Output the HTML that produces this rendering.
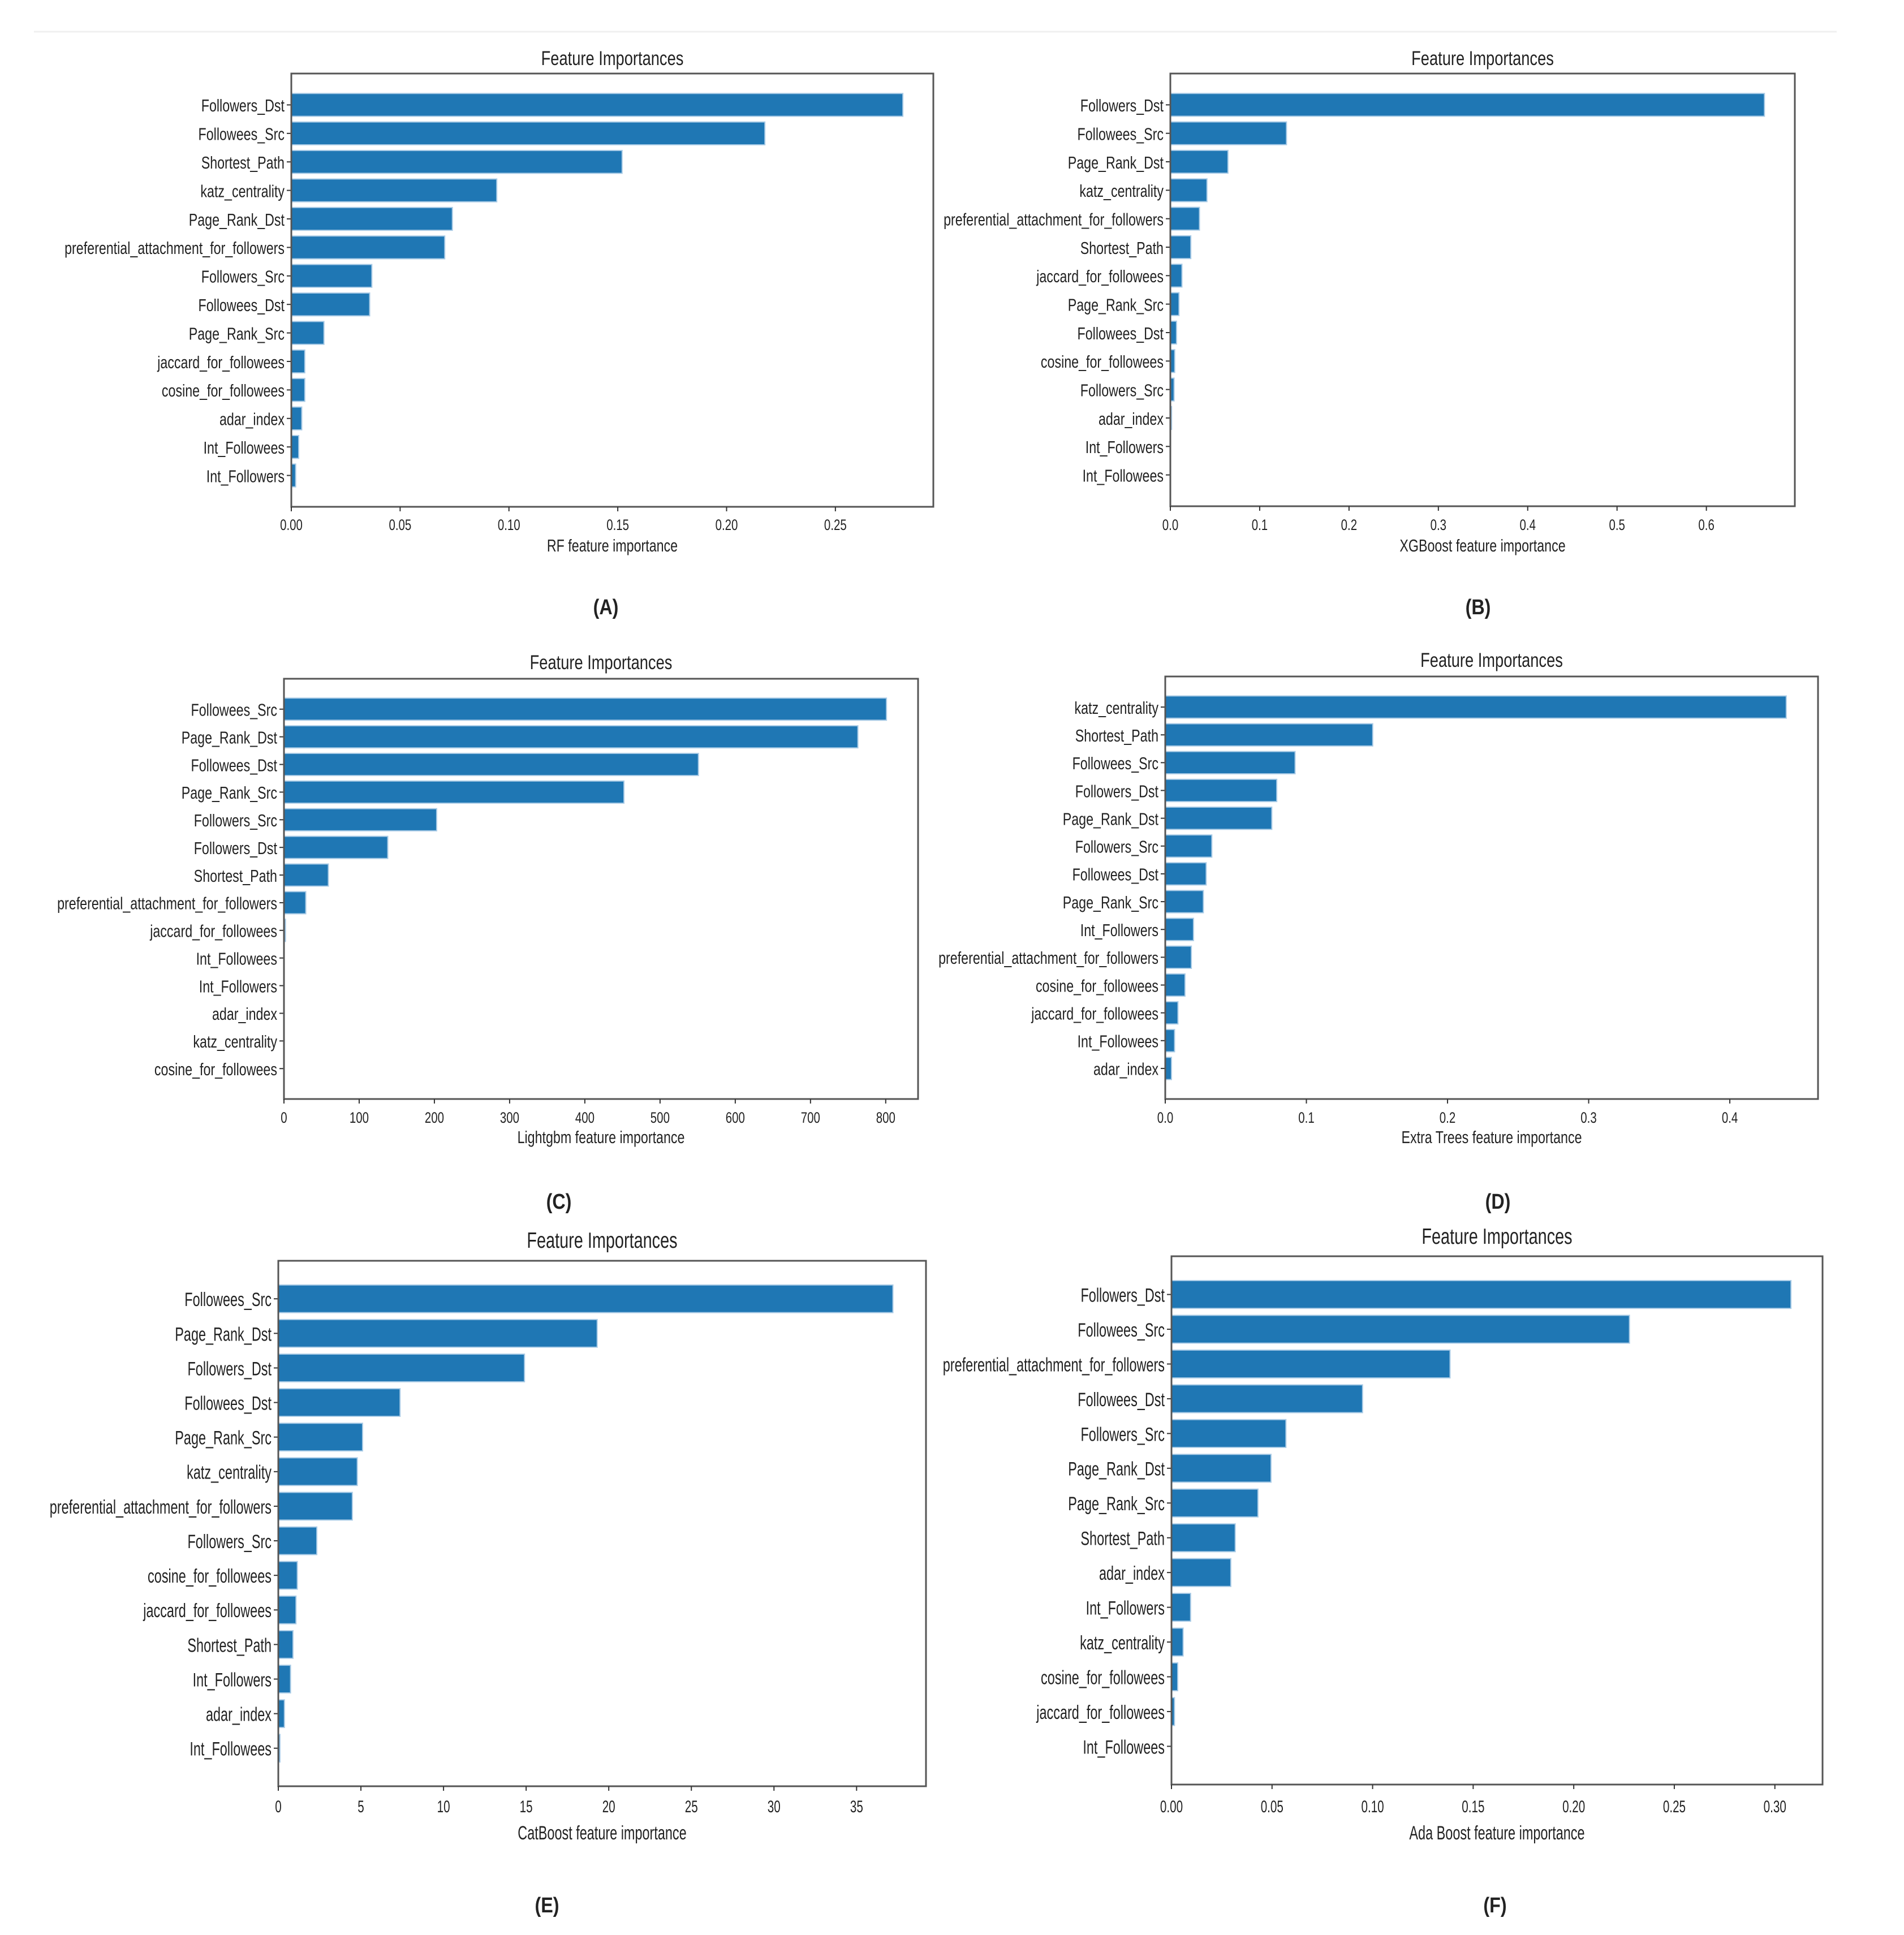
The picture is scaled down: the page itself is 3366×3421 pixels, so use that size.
<!DOCTYPE html>
<html><head><meta charset="utf-8"><title>Feature Importances</title>
<style>html,body{margin:0;padding:0;background:#fff}svg{display:block}</style></head>
<body>
<svg id="fig" xmlns="http://www.w3.org/2000/svg" width="3366" height="3421" viewBox="0 0 3366 3421">
<rect width="3366" height="3421" fill="#fff"/>
<line x1="60" y1="56" x2="3247" y2="56" stroke="#f0f0f0" stroke-width="3"/>
</svg>
<script>
// ---- data ----
const catsA = ["Followers_Dst","Followees_Src","Shortest_Path","katz_centrality","Page_Rank_Dst","preferential_attachment_for_followers","Followers_Src","Followees_Dst","Page_Rank_Src","jaccard_for_followees","cosine_for_followees","adar_index","Int_Followees","Int_Followers"];
const valsA = [0.281,0.2176,0.152,0.0944,0.074,0.0705,0.037,0.036,0.015,0.0062,0.0062,0.0048,0.0034,0.002];
const ticksA = [0,0.05,0.10,0.15,0.20,0.25];
const tickLabelsA = ["0.00","0.05","0.10","0.15","0.20","0.25"];

const catsB = ["Followers_Dst","Followees_Src","Page_Rank_Dst","katz_centrality","preferential_attachment_for_followers","Shortest_Path","jaccard_for_followees","Page_Rank_Src","Followees_Dst","cosine_for_followees","Followers_Src","adar_index","Int_Followers","Int_Followees"];
const valsB = [0.665,0.130,0.0645,0.041,0.0326,0.0229,0.013,0.0097,0.0069,0.0049,0.0042,0.0014,0,0];
const ticksB = [0,0.1,0.2,0.3,0.4,0.5,0.6];
const tickLabelsB = ["0.0","0.1","0.2","0.3","0.4","0.5","0.6"];

const catsC = ["Followees_Src","Page_Rank_Dst","Followees_Dst","Page_Rank_Src","Followers_Src","Followers_Dst","Shortest_Path","preferential_attachment_for_followers","jaccard_for_followees","Int_Followees","Int_Followers","adar_index","katz_centrality","cosine_for_followees"];
const valsC = [801,763,551,452,203,138,59,29,2,0,0,0,0,0];
const ticksC = [0,100,200,300,400,500,600,700,800];
const tickLabelsC = ["0","100","200","300","400","500","600","700","800"];

const catsD = ["katz_centrality","Shortest_Path","Followees_Src","Followers_Dst","Page_Rank_Dst","Followers_Src","Followees_Dst","Page_Rank_Src","Int_Followers","preferential_attachment_for_followers","cosine_for_followees","jaccard_for_followees","Int_Followees","adar_index"];
const valsD = [0.44,0.147,0.092,0.079,0.0755,0.033,0.029,0.027,0.020,0.0185,0.014,0.009,0.0066,0.0044];
const ticksD = [0,0.1,0.2,0.3,0.4];
const tickLabelsD = ["0.0","0.1","0.2","0.3","0.4"];

const catsE = ["Followees_Src","Page_Rank_Dst","Followers_Dst","Followees_Dst","Page_Rank_Src","katz_centrality","preferential_attachment_for_followers","Followers_Src","cosine_for_followees","jaccard_for_followees","Shortest_Path","Int_Followers","adar_index","Int_Followees"];
const valsE = [37.2,19.3,14.9,7.37,5.1,4.78,4.48,2.33,1.15,1.07,0.89,0.74,0.37,0.1];
const ticksE = [0,5,10,15,20,25,30,35];
const tickLabelsE = ["0","5","10","15","20","25","30","35"];

const catsF = ["Followers_Dst","Followees_Src","preferential_attachment_for_followers","Followees_Dst","Followers_Src","Page_Rank_Dst","Page_Rank_Src","Shortest_Path","adar_index","Int_Followers","katz_centrality","cosine_for_followees","jaccard_for_followees","Int_Followees"];
const valsF = [0.308,0.2277,0.1385,0.095,0.0569,0.0495,0.043,0.0317,0.0295,0.0095,0.0058,0.0031,0.0015,0];
const ticksF = [0,0.05,0.10,0.15,0.20,0.25,0.30];
const tickLabelsF = ["0.00","0.05","0.10","0.15","0.20","0.25","0.30"];

const xLabels = ["RF feature importance","XGBoost feature importance","Lightgbm feature importance","Extra Trees feature importance","CatBoost feature importance","Ada Boost feature importance"];
const panelTags = ["(A)","(B)","(C)","(D)","(E)","(F)"];

// ---- layout ----
const NS = "http://www.w3.org/2000/svg";
const svg = document.getElementById("fig");
const panels = [
 {id:"a",cats:catsA,vals:valsA,ticks:ticksA,tl:tickLabelsA,L:515,R:1650,T:130,B:896,xmax:0.295,titleY:115,tickY:937,xlabY:975,tagX:1071,tagY:1086,fs:31,sx:0.75,tfs:35,tsx:0.78},
 {id:"b",cats:catsB,vals:valsB,ticks:ticksB,tl:tickLabelsB,L:2069,R:3173,T:130,B:895,xmax:0.699,titleY:115,tickY:937,xlabY:975,tagX:2613,tagY:1086,fs:31,sx:0.75,tfs:35,tsx:0.78},
 {id:"c",cats:catsC,vals:valsC,ticks:ticksC,tl:tickLabelsC,L:502,R:1623,T:1200,B:1943,xmax:843,titleY:1183,tickY:1985,xlabY:2021,tagX:988,tagY:2137,fs:31,sx:0.75,tfs:35,tsx:0.78},
 {id:"d",cats:catsD,vals:valsD,ticks:ticksD,tl:tickLabelsD,L:2060,R:3214,T:1196,B:1943,xmax:0.4625,titleY:1179,tickY:1985,xlabY:2021,tagX:2648,tagY:2137,fs:31,sx:0.75,tfs:35,tsx:0.78},
 {id:"e",cats:catsE,vals:valsE,ticks:ticksE,tl:tickLabelsE,L:492,R:1637,T:2229,B:3158,xmax:39.2,titleY:2206,tickY:3204,xlabY:3252,tagX:967,tagY:3381,fs:34,sx:0.69,tfs:39,tsx:0.74},
 {id:"f",cats:catsF,vals:valsF,ticks:ticksF,tl:tickLabelsF,L:2071,R:3222,T:2221,B:3155,xmax:0.3237,titleY:2199,tickY:3204,xlabY:3252,tagX:2643,tagY:3381,fs:34,sx:0.69,tfs:39,tsx:0.74}
];

function mk(tag, attrs, parent){const e=document.createElementNS(NS,tag);for(const k in attrs)e.setAttribute(k,attrs[k]);(parent||svg).appendChild(e);return e;}
function txt(parent,x,y,s,size,sx,anchor,weight){
  const e=mk("text",{x:(x/sx).toFixed(2),y:y,transform:"scale("+sx+",1)","font-family":"'Liberation Sans', sans-serif","font-size":size,"text-anchor":anchor||"middle","fill":"#222","font-weight":weight||"normal"},parent);
  e.textContent=s;return e;}

panels.forEach((p,pi)=>{
  const g=mk("g",{});
  
  
  const xs=v=>p.L+(v/p.xmax)*(p.R-p.L);
  const n=p.cats.length;
  const step=(p.B-p.T)/(n+1.2);
  const yc=i=>p.T+(1.1+i)*step;
  const bh=step*0.8;
  p.vals.forEach((v,i)=>{
    const w=Math.max(0,xs(v)-p.L);
    const r=mk("rect",{x:p.L,y:(yc(i)-bh/2).toFixed(2),width:w.toFixed(2),height:bh.toFixed(2),fill:"#1f77b4",stroke:"#a9cbe6","stroke-width":w>2?2:0},g);
    
    
    mk("line",{x1:p.L-8,x2:p.L,y1:yc(i),y2:yc(i),stroke:"#333","stroke-width":2},g);
    const t=txt(g,p.L-12,yc(i)+p.fs*0.38,p.cats[i],p.fs,p.sx,"end");
    
    
  });
  const fr=mk("rect",{x:p.L,y:p.T,width:p.R-p.L,height:p.B-p.T,fill:"none",stroke:"#555","stroke-width":3},g);
  
  
  p.ticks.forEach((v,i)=>{
    mk("line",{x1:xs(v),x2:xs(v),y1:p.B,y2:p.B+8,stroke:"#333","stroke-width":2},g);
    const t=txt(g,xs(v),p.tickY,p.tl[i],p.fs*0.88,p.sx,"middle");
    
    
  });
  const cx=(p.L+p.R)/2;
  const ti=txt(g,cx,p.titleY,"Feature Importances",p.tfs,p.tsx,"middle");
  
  
  const xl=txt(g,cx,p.xlabY,xLabels[pi],p.fs,p.sx,"middle");
  
  
  const tg=txt(g,p.tagX,p.tagY,panelTags[pi],38,0.85,"middle","bold");
  
  
});
</script>
</body></html>
